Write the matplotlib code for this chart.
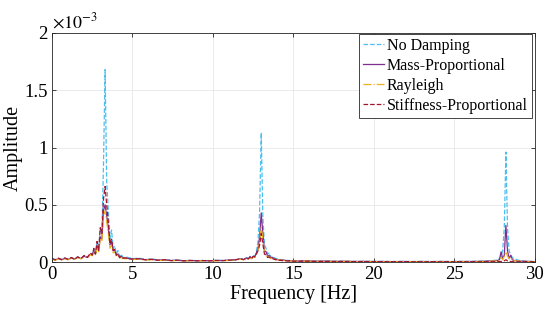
import matplotlib
matplotlib.use("Agg")
import matplotlib.pyplot as plt

plt.rcParams['font.family'] = ['Liberation Serif', 'DejaVu Serif']
plt.rcParams['mathtext.fontset'] = 'stix'

# frequency bins [Hz]
freq = [0.0, 0.2, 0.4, 0.6, 0.8, 1.0, 1.2, 1.4, 1.6, 1.8, 2.0, 2.2, 2.4,
        2.5, 2.6, 2.7, 2.8, 2.9, 3.0, 3.1, 3.2, 3.3, 3.4, 3.5, 3.6, 3.7, 3.8, 3.9, 4.0, 4.1, 4.2, 4.3, 4.4,
        4.6, 5.0, 5.4, 5.8, 6.2, 6.6, 7.0, 7.4, 7.8, 8.2, 8.6, 9.0, 9.4, 9.8, 10.2, 10.6, 11.0, 11.4,
        11.7, 11.9, 12.1, 12.2, 12.3, 12.4, 12.5, 12.6, 12.7, 12.8, 12.9, 13.0, 13.1, 13.2, 13.3, 13.4, 13.5, 13.6, 13.7, 13.9, 14.1, 14.3,
        14.6, 15.2, 15.8, 16.4, 17.0, 17.6, 18.2, 18.8, 19.4, 20.0, 20.6, 21.2, 21.8, 22.4, 23.0, 23.6, 24.2, 24.8, 25.4, 26.0, 26.6, 27.0,
        27.3, 27.5, 27.7, 27.8, 27.9, 28.0, 28.1, 28.2, 28.3, 28.4, 28.5, 28.6, 28.7, 28.9, 29.1,
        29.4, 29.7, 30.0]

# amplitudes in units of 1e-3
no_damping = [0.030, 0.020, 0.032, 0.022, 0.035, 0.024, 0.038, 0.026, 0.045, 0.030, 0.055, 0.040, 0.075,
              0.06, 0.11, 0.07, 0.16, 0.10, 0.30, 0.25, 0.85, 1.68, 0.70, 0.45, 0.20, 0.28, 0.12, 0.14, 0.07, 0.10, 0.05, 0.07, 0.04,
              0.045, 0.03, 0.035, 0.022, 0.028, 0.018, 0.022, 0.015, 0.018, 0.012, 0.016, 0.012, 0.015, 0.012, 0.016, 0.014, 0.018, 0.022,
              0.03, 0.025, 0.04, 0.03, 0.05, 0.035, 0.06, 0.05, 0.09, 0.18, 0.45, 1.13, 0.40, 0.15, 0.12, 0.07, 0.08, 0.04, 0.05, 0.03, 0.025, 0.02,
              0.015, 0.010, 0.012, 0.008, 0.010, 0.007, 0.008, 0.006, 0.007, 0.005, 0.006, 0.005, 0.006, 0.005, 0.006, 0.005, 0.006, 0.005, 0.006, 0.006, 0.008, 0.010,
              0.012, 0.015, 0.02, 0.03, 0.05, 0.10, 0.30, 0.96, 0.30, 0.10, 0.06, 0.04, 0.03, 0.02, 0.012,
              0.008, 0.006, 0.005]

mass_prop = [0.028, 0.018, 0.030, 0.020, 0.032, 0.022, 0.036, 0.025, 0.042, 0.030, 0.052, 0.040, 0.07,
             0.06, 0.10, 0.07, 0.14, 0.10, 0.22, 0.20, 0.45, 0.50, 0.40, 0.30, 0.15, 0.18, 0.10, 0.10, 0.06, 0.07, 0.04, 0.05, 0.035,
             0.035, 0.025, 0.03, 0.02, 0.024, 0.016, 0.02, 0.013, 0.016, 0.011, 0.014, 0.011, 0.013, 0.011, 0.014, 0.013, 0.016, 0.02,
             0.028, 0.022, 0.035, 0.028, 0.045, 0.03, 0.05, 0.045, 0.08, 0.12, 0.22, 0.43, 0.25, 0.10, 0.09, 0.05, 0.06, 0.035, 0.04, 0.025, 0.02, 0.018,
             0.013, 0.009, 0.010, 0.007, 0.008, 0.006, 0.007, 0.005, 0.006, 0.005, 0.005, 0.004, 0.005, 0.004, 0.005, 0.004, 0.005, 0.004, 0.005, 0.005, 0.006, 0.008,
             0.010, 0.012, 0.015, 0.02, 0.09, 0.03, 0.06, 0.32, 0.10, 0.03, 0.06, 0.02, 0.015, 0.01, 0.008,
             0.007, 0.005, 0.004]

rayleigh = [0.026, 0.016, 0.028, 0.018, 0.030, 0.020, 0.034, 0.023, 0.040, 0.028, 0.050, 0.038, 0.065,
            0.055, 0.09, 0.065, 0.12, 0.09, 0.20, 0.18, 0.40, 0.45, 0.35, 0.25, 0.12, 0.15, 0.08, 0.09, 0.05, 0.06, 0.035, 0.04, 0.03,
            0.03, 0.022, 0.026, 0.018, 0.02, 0.014, 0.017, 0.012, 0.014, 0.010, 0.012, 0.010, 0.012, 0.010, 0.012, 0.012, 0.014, 0.018,
            0.025, 0.02, 0.032, 0.025, 0.04, 0.028, 0.045, 0.04, 0.07, 0.10, 0.18, 0.30, 0.20, 0.08, 0.07, 0.04, 0.05, 0.03, 0.035, 0.02, 0.018, 0.015,
            0.011, 0.008, 0.009, 0.006, 0.007, 0.005, 0.006, 0.004, 0.005, 0.004, 0.004, 0.004, 0.004, 0.004, 0.004, 0.004, 0.004, 0.004, 0.004, 0.004, 0.005, 0.006,
            0.008, 0.009, 0.011, 0.014, 0.04, 0.02, 0.05, 0.09, 0.05, 0.03, 0.04, 0.02, 0.012, 0.009, 0.007,
            0.006, 0.004, 0.003]

stiff_prop = [0.032, 0.020, 0.034, 0.022, 0.036, 0.024, 0.040, 0.026, 0.046, 0.030, 0.058, 0.042, 0.08,
              0.06, 0.12, 0.07, 0.18, 0.10, 0.30, 0.25, 0.55, 0.66, 0.50, 0.35, 0.16, 0.20, 0.10, 0.11, 0.06, 0.07, 0.04, 0.05, 0.035,
              0.035, 0.025, 0.03, 0.02, 0.024, 0.016, 0.02, 0.013, 0.016, 0.011, 0.014, 0.011, 0.013, 0.011, 0.014, 0.013, 0.016, 0.02,
              0.028, 0.022, 0.035, 0.028, 0.045, 0.03, 0.05, 0.045, 0.07, 0.10, 0.15, 0.25, 0.16, 0.07, 0.06, 0.04, 0.045, 0.03, 0.03, 0.02, 0.016, 0.013,
              0.010, 0.007, 0.008, 0.006, 0.006, 0.005, 0.005, 0.004, 0.004, 0.004, 0.004, 0.003, 0.004, 0.003, 0.003, 0.003, 0.003, 0.003, 0.003, 0.003, 0.003, 0.003,
              0.003, 0.003, 0.004, 0.004, 0.005, 0.008, 0.012, 0.02, 0.01, 0.006, 0.005, 0.004, 0.003, 0.003, 0.003,
              0.003, 0.003, 0.003]

xticks = [0, 5, 10, 15, 20, 25, 30]
yticks = [0, 0.5, 1, 1.5, 2]

fig = plt.figure(figsize=(5.5, 3.2), dpi=100)
ax = fig.add_axes([0.0945, 0.181, 0.878, 0.716])

ax.plot(freq, no_damping, '--', color='#4DBEEE', lw=0.9, label='No Damping')
ax.plot(freq, mass_prop, '-', color='#7E2F8E', lw=0.9, label='Mass-Proportional')
ax.plot(freq, rayleigh, '-.', color='#EDB120', lw=0.9, label='Rayleigh')
ax.plot(freq, stiff_prop, '--', color='#A2142F', lw=0.9, label='Stiffness-Proportional')

ax.set_xlim(0, 30)
ax.set_ylim(0, 2)
ax.set_xticks(xticks)
ax.set_yticks(yticks)
ax.set_yticklabels(['%g' % v for v in yticks])
ax.tick_params(direction='in', top=True, right=True, labelsize=13.5, length=3, width=0.6,
               color='#262626', pad=3)
ax.grid(True, color='#e8e8e8', lw=0.6)
ax.set_axisbelow(True)
for s in ax.spines.values():
    s.set_linewidth(0.6)
    s.set_color('#262626')

ax.set_xlabel('Frequency [Hz]', fontsize=14.5, labelpad=1)
ax.set_ylabel('Amplitude', fontsize=14.5, labelpad=1)
ax.text(0.0, 1.005, r'$\times10^{-3}$', transform=ax.transAxes, fontsize=13, ha='left', va='bottom')

leg = ax.legend(loc='upper right', bbox_to_anchor=(532 / 550, 1 - 34 / 320), bbox_transform=fig.transFigure,
                fontsize=11.5, handlelength=1.3, handletextpad=0.2, labelspacing=0.25,
                borderpad=0.25, borderaxespad=0, fancybox=False, framealpha=1)
leg.get_frame().set_edgecolor('#262626')
leg.get_frame().set_linewidth(0.6)

fig.savefig('out.png', dpi=100)
